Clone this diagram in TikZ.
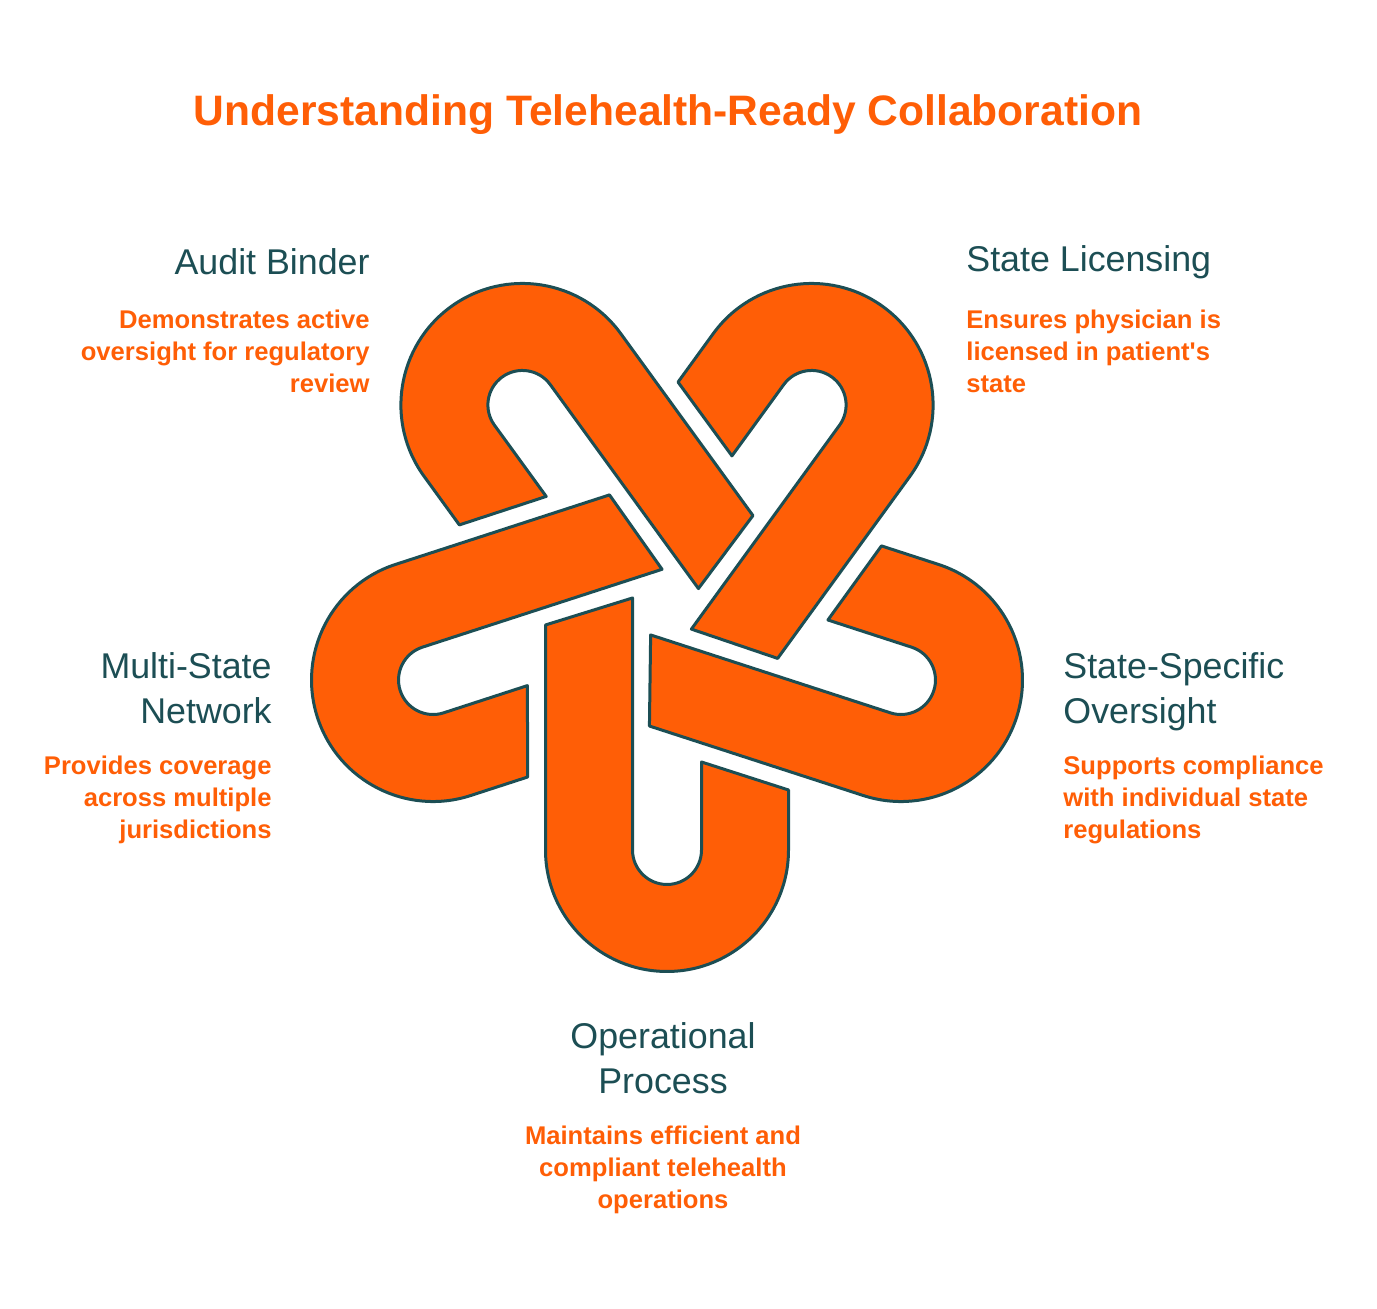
\documentclass[tikz,border=0pt]{standalone}
\usepackage{fontspec}
\setmainfont{Liberation Sans}
\newfontfamily\plainfont{Liberation Sans}
\definecolor{orng}{HTML}{FF5E06}
\definecolor{teal}{HTML}{1C4E54}
\begin{document}
\begin{tikzpicture}[x=0.5pt,y=0.5pt,
  link/.style={fill=orng,draw=teal,line width=1.5pt,line join=round},
  head/.style={text=teal,inner sep=0pt,font=\fontsize{17.9}{22.5}\selectfont},
  desc/.style={text=orng,inner sep=0pt,font=\fontsize{12.8}{16}\selectfont\bfseries}]
\useasboundingbox (0,0) rectangle (1377,1309);
\foreach \k in {0,...,4}{
\begin{scope}[shift={(667,705)},rotate=72*\k]
\draw[link] (-121.5,-21) -- (-34.5,6) -- (-34.5,-246) arc[start angle=180,end angle=360,radius=34.5]
  -- (34.5,-158) -- (121.5,-186) -- (121.5,-246) arc[start angle=0,end angle=-180,radius=121.5] -- cycle;
\end{scope}}
\node (title) at (668,1194) {\textcolor{orng}{\fontsize{21.3}{24}\selectfont\bfseries Understanding Telehealth-Ready Collaboration}};
\node[head,anchor=east] (ab) at (370,1047) {Audit Binder};
\node[desc,anchor=north east,align=right] (abd) at (370,999) {Demonstrates active\\oversight for regulatory\\review};
\node[head,anchor=west] (sl) at (966,1047) {State Licensing};
\node[desc,anchor=north west,align=left] (sld) at (966,999) {Ensures physician is\\licensed in patient{\plainfont\char"27}s\\state};
\node[head,anchor=north east,align=right] (ms) at (272,657) {Multi-State\\Network};
\node[desc,anchor=north east,align=right] (msd) at (272,553) {Provides coverage\\across multiple\\jurisdictions};
\node[head,anchor=north west,align=left] (ss) at (1063,657) {State-Specific\\Oversight};
\node[desc,anchor=north west,align=left] (ssd) at (1063,553) {Supports compliance\\with individual state\\regulations};
\node[head,anchor=north,align=center] (op) at (663,287) {Operational\\Process};
\node[desc,anchor=north,align=center] (opd) at (663,183) {Maintains efficient and\\compliant telehealth\\operations};
\end{tikzpicture}
\end{document}
